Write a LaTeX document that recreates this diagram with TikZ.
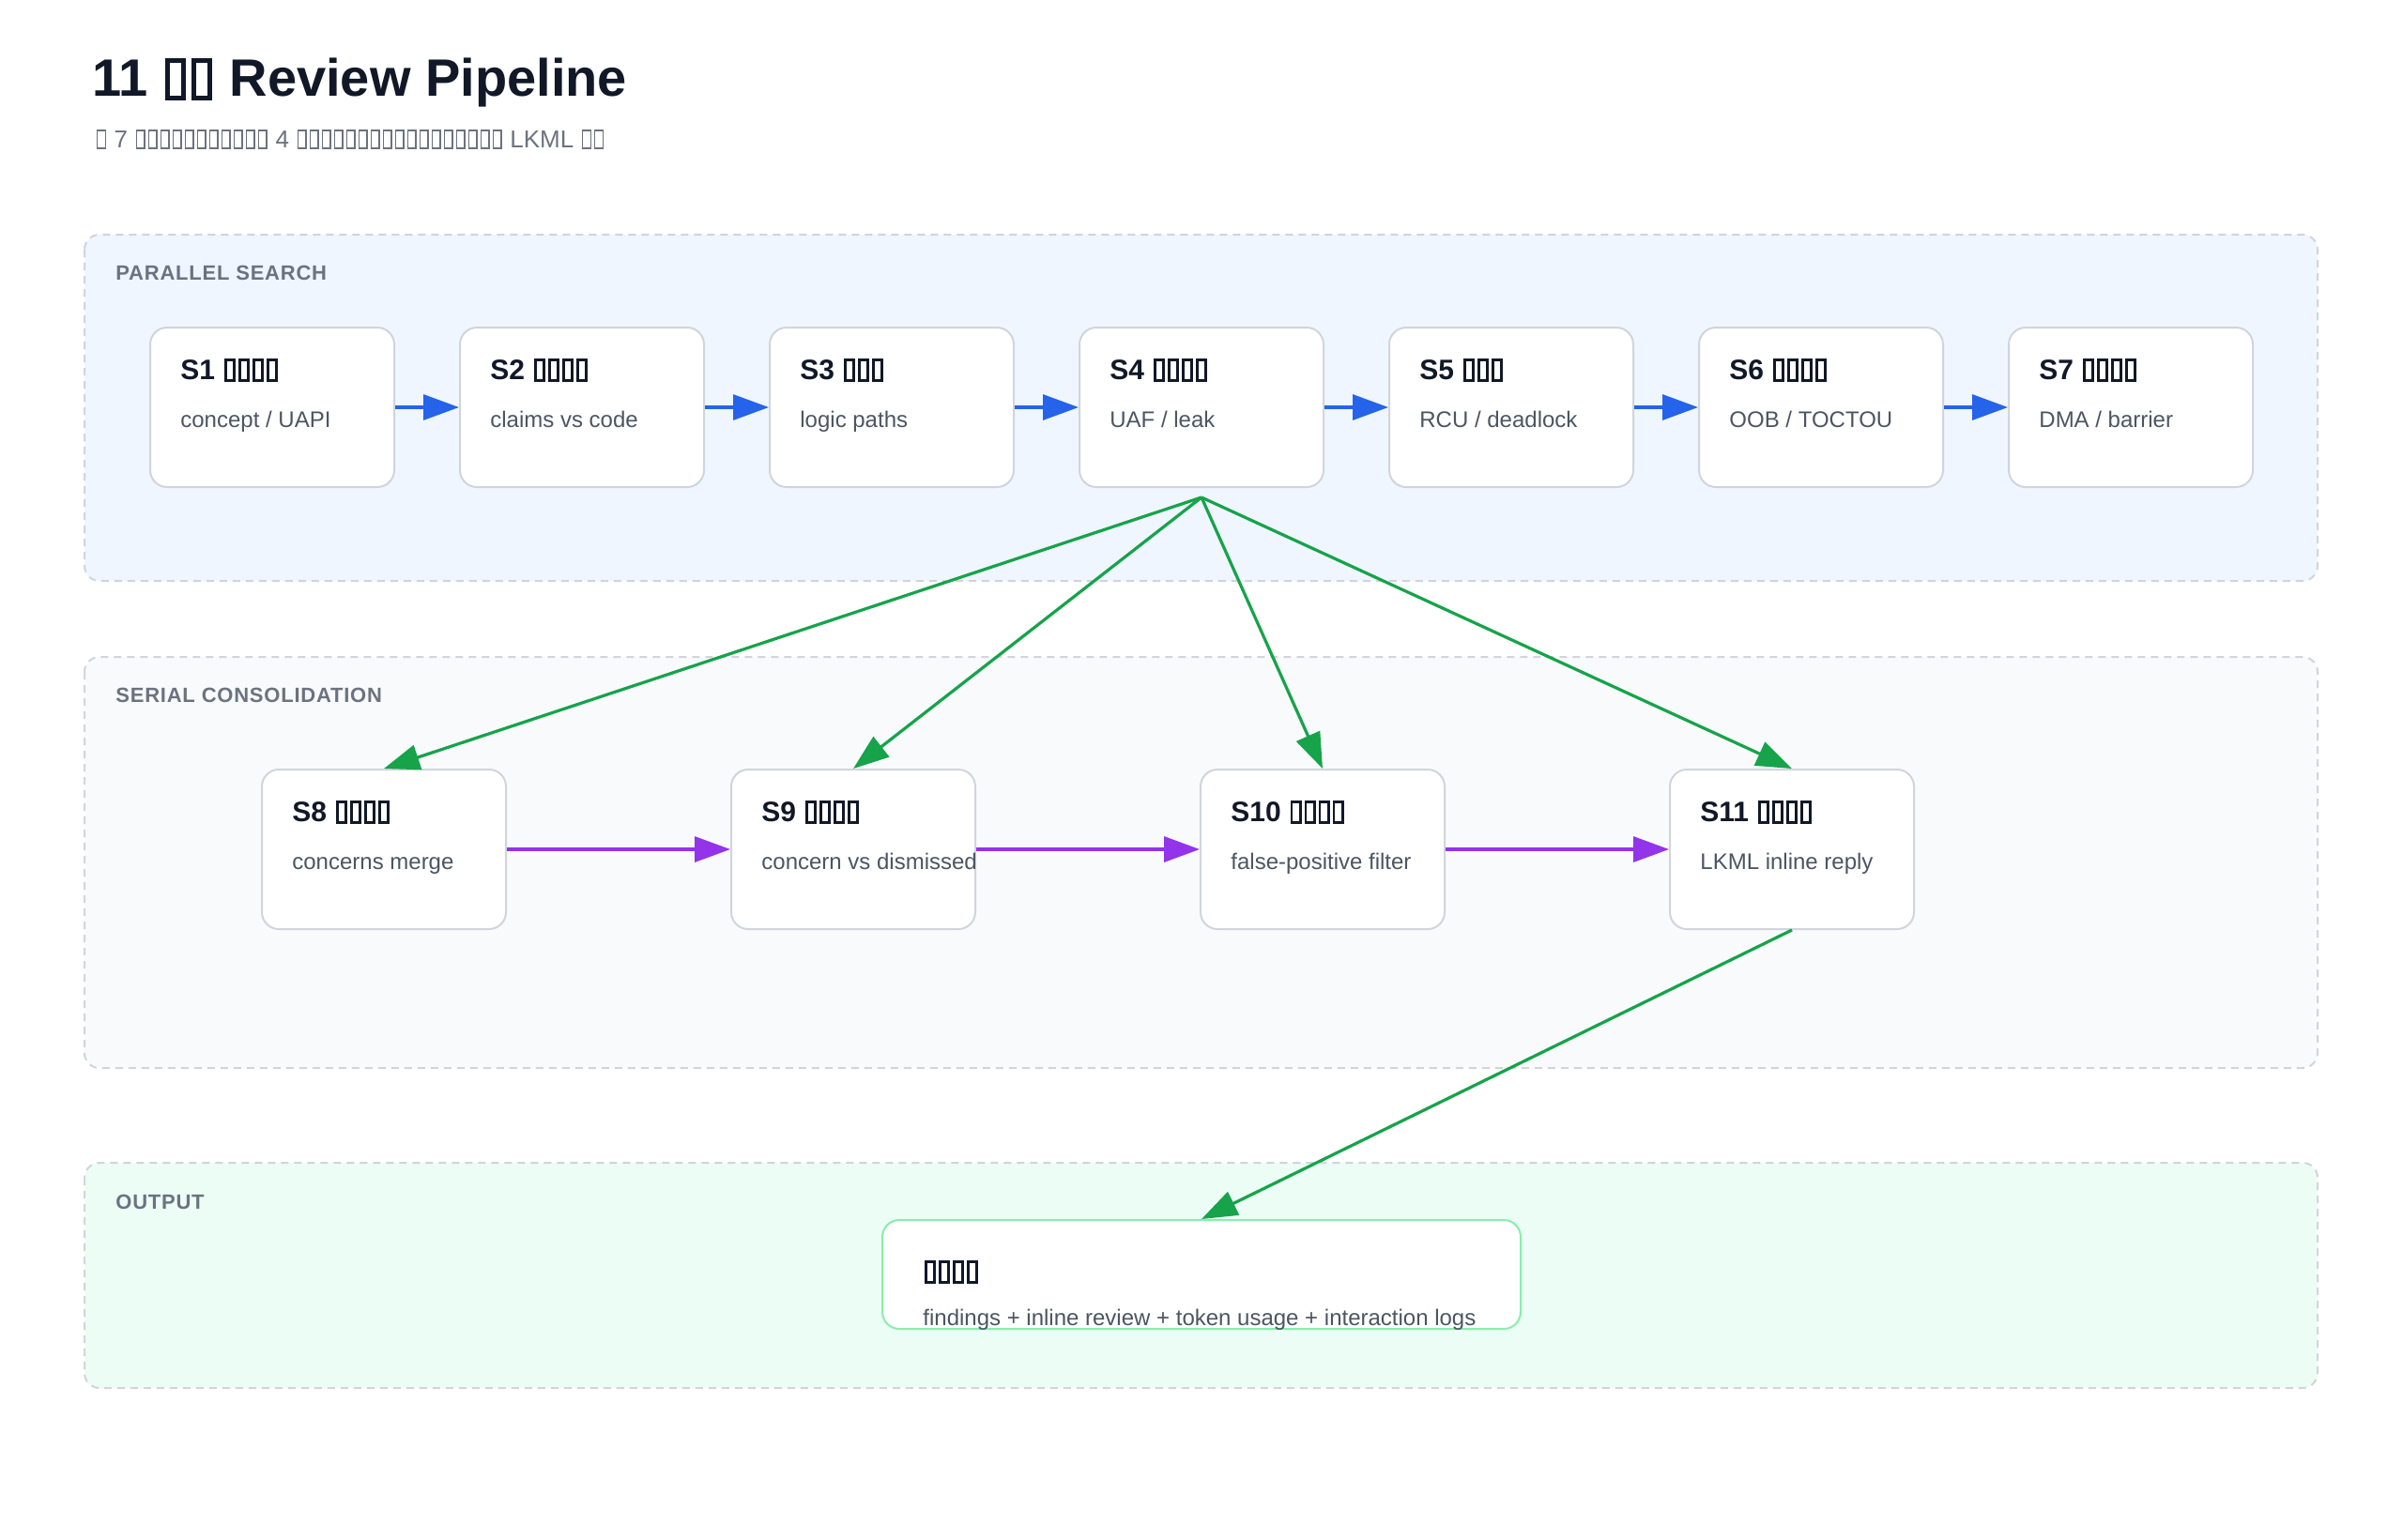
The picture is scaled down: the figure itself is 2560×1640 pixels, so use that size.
\documentclass[tikz,border=0pt]{standalone}
\usepackage{fontspec}
\setmainfont{Liberation Sans}
\usepackage{tikz}
\usetikzlibrary{arrows.meta,positioning}
\definecolor{ink}{RGB}{17,24,39}
\definecolor{muted}{RGB}{107,114,128}
\definecolor{subink}{RGB}{75,85,99}
\definecolor{boxline}{RGB}{209,213,219}
\definecolor{searchbg}{RGB}{239,246,255}
\definecolor{serialbg}{RGB}{248,250,252}
\definecolor{outbg}{RGB}{236,253,245}
\definecolor{outline}{RGB}{134,239,172}
\definecolor{flowblue}{RGB}{37,99,235}
\definecolor{flowgreen}{RGB}{22,163,74}
\definecolor{flowpurple}{RGB}{147,51,234}

% missing-glyph boxes, as the picture prints them
\newcommand{\tofu}[1][0.06em]{\kern0.05em{\setlength{\fboxsep}{0pt}\setlength{\fboxrule}{#1}%
  \fbox{\rule{0pt}{\dimexpr0.72em-#1\relax}\hspace{\dimexpr0.4em-#1-#1\relax}}}\kern0.05em}
\newcommand{\tofus}[2][0.06em]{\foreach \k in {1,...,#2}{\tofu[#1]}}

\begin{document}
\begin{tikzpicture}
  [x=0.5pt,y=-0.5pt,
   panel/.style={draw=boxline,line width=1pt,dash pattern=on 4pt off 3pt,rounded corners=8pt},
   plabel/.style={anchor=base west,inner sep=0pt,
     font=\bfseries\fontsize{11}{13}\selectfont\addfontfeature{LetterSpace=3.5},text=muted},
   stage/.style={draw=boxline,line width=1pt,fill=white,rounded corners=9pt,
     minimum width=130pt,minimum height=85pt,inner sep=0pt},
   stitle/.style={anchor=base west,inner sep=0pt,font=\bfseries\fontsize{15}{18}\selectfont,text=ink},
   ssub/.style={anchor=base west,inner sep=0pt,font=\fontsize{12}{14}\selectfont,text=subink},
   flow/.style={line width=1.6pt,-{Triangle[length=19pt,width=13.5pt]}},
   node distance=34pt]

  \useasboundingbox (0,0) rectangle (2560,1640);
  \fill[white] (0,0) rectangle (2560,1640);

  % heading
  \node[anchor=base west,inner sep=0pt,font=\bfseries\fontsize{28}{32}\selectfont,text=ink]
    (title) at (98,102) {11 \tofus[0.09em]{2} Review Pipeline};
  \node[anchor=base west,inner sep=0pt,font=\fontsize{13}{16}\selectfont,text=muted]
    (subtitle) at (101,157) {\tofus{1} 7 \tofus{11} 4 \tofus{17} LKML \tofus{2}};

  % lanes
  \draw[panel,fill=searchbg] (90,250) rectangle (2469,619);
  \draw[panel,fill=serialbg] (90,700) rectangle (2469,1138);
  \draw[panel,fill=outbg] (90,1239) rectangle (2469,1479);
  \node[plabel] (lane1) at (123,298) {PARALLEL SEARCH};
  \node[plabel] (lane2) at (123,748) {SERIAL CONSOLIDATION};
  \node[plabel] (lane3) at (123,1288) {OUTPUT};

  % stages
  \node[stage] (s1) at (290,434) {};
  \node[stage,right=of s1] (s2) {};
  \node[stage,right=of s2] (s3) {};
  \node[stage,right=of s3] (s4) {};
  \node[stage,right=of s4] (s5) {};
  \node[stage,right=of s5] (s6) {};
  \node[stage,right=of s6] (s7) {};
  \node[stage] (s8) at (409,905) {};
  \node[stage,right=119pt of s8] (s9) {};
  \node[stage,right=119pt of s9] (s10) {};
  \node[stage,right=119pt of s10] (s11) {};
  \node[stage,draw=outline,minimum width=340pt,minimum height=58pt] (out) at (1280,1358) {};

  \foreach \i/\n/\d in {1/4/{concept / UAPI},2/4/claims vs code,3/3/logic paths,
      4/4/{UAF / leak},5/3/{RCU / deadlock},6/4/{OOB / TOCTOU},7/4/{DMA / barrier},
      8/4/concerns merge,9/4/concern vs dismissed,10/4/false-positive filter,
      11/4/LKML inline reply}{
    \node[stitle] (s\i-t) at ([shift={(33,56)}]s\i.north west) {S\i\ \tofus[0.09em]{\n}};
    \node[ssub] (s\i-d) at ([shift={(33,107)}]s\i.north west) {\d};
  }
  \node[stitle] (out-t) at ([shift={(44,66)}]out.north west) {\tofus[0.09em]{4}};
  \node[ssub] (out-d) at ([shift={(44,113)}]out.north west)
    {findings + inline review + token usage + interaction logs};

  % connectors
  \foreach \from/\to in {s1/s2,s2/s3,s3/s4,s4/s5,s5/s6,s6/s7}
    \draw[flow,flowblue] (\from) -- (\to);
  \foreach \to in {s8,s9,s10,s11}
    \draw[flow,flowgreen] ([yshift=-5pt]s4.south) -- (\to.north);
  \foreach \from/\to in {s8/s9,s9/s10,s10/s11}
    \draw[flow,flowpurple] (\from.east) -- (\to.west);
  \draw[flow,flowgreen] (s11.south) -- (out.north);
\end{tikzpicture}
\end{document}
